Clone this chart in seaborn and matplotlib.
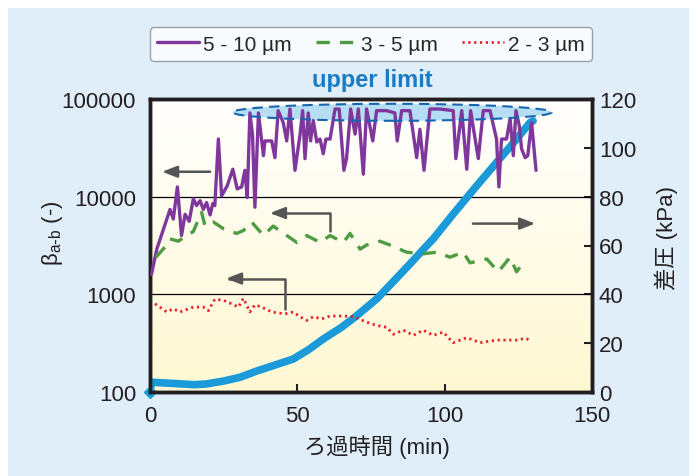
import matplotlib.pyplot as plt
import numpy as np
import seaborn as sns
from matplotlib.colors import LinearSegmentedColormap
from matplotlib.patches import Ellipse, Rectangle
from matplotlib.ticker import NullLocator

sns.set_style("ticks")
plt.rcParams["font.family"] = ["Liberation Sans", "Noto Sans CJK JP", "DejaVu Sans"]

# 5 - 10 um
t_510 = [0.5, 2.3, 6.8, 7.9, 9.3, 10.7, 11.9, 13.3, 14.7, 15.8, 17.0, 18.1, 19.2, 20.4,
         21.3, 22.0, 23.2, 24.3, 26.2, 28.1, 29.6, 31.1, 32.2, 33.0, 33.9, 34.8, 35.6,
         36.8, 38.5, 39.0, 41.3, 42.4, 43.5, 45.2, 46.4, 47.5, 49.2, 50.9, 51.8, 52.6,
         53.7, 54.5, 55.4, 56.6, 57.7, 58.8, 59.7, 61.1, 62.8, 64.2, 65.8, 66.7, 68.1,
         69.6, 70.7, 72.4, 73.5, 75.6, 76.9, 80.3, 83.1, 83.9, 85.4, 88.2, 90.5, 91.6,
         93.0, 95.0, 98.4, 102.9, 103.8, 105.8, 107.5, 108.8, 111.4, 113.1, 115.4,
         117.6, 118.4, 119.3, 121.0, 122.2, 123.3, 124.2, 125.3, 126.1, 127.3, 128.2,
         129.5, 131.0]
b_510 = [1600, 2900, 7400, 5900, 12600, 4000, 6600, 5600, 9500, 8100, 9100, 7400, 8700,
         6500, 8500, 8100, 38900, 10200, 12900, 19100, 12000, 12600, 18600, 9800, 72000,
         42700, 7800, 72000, 26300, 37200, 37200, 25100, 76000, 57500, 37200, 79000,
         18600, 42700, 76000, 24500, 72000, 37200, 60300, 36300, 38900, 27500, 38900,
         38900, 79000, 79000, 18600, 24500, 79000, 43700, 79000, 17000, 79000, 37200,
         76000, 76000, 72000, 37200, 76000, 76000, 25100, 49000, 18600, 79000, 79000,
         76000, 24500, 76000, 19100, 76000, 24500, 76000, 76000, 38900, 12600, 38900,
         38900, 63100, 26300, 76000, 53700, 30900, 25100, 26300, 57500, 18600]

# 3 - 5 um
t_35 = [2.0, 5.7, 6.8, 9.6, 11.3, 14.7, 17.5, 18.7, 21.5, 24.9, 29.4, 31.7, 34.5, 38.5,
        41.8, 46.4, 49.8, 53.2, 57.7, 61.1, 65.6, 67.9, 71.3, 73.5, 78.0, 81.4, 87.1,
        92.7, 97.3, 101.8, 106.3, 108.6, 114.3, 118.2, 122.2, 124.4, 126.7]
b_35 = [2400, 3200, 3700, 3500, 3800, 4400, 6900, 5000, 5500, 4700, 4200, 4500, 5500,
        4000, 5000, 4000, 3400, 4000, 3400, 4000, 3400, 4200, 2900, 3200, 3500, 3200,
        2700, 2600, 2700, 2400, 2700, 2100, 2300, 1700, 2400, 1700, 2100]

# 2 - 3 um
t_23 = [1.7, 5.7, 7.9, 10.2, 14.7, 18.1, 19.8, 22.0, 24.9, 27.7, 30.0, 31.7, 33.9, 35.6,
        37.9, 41.3, 45.8, 48.6, 50.9, 53.2, 55.4, 58.3, 61.1, 65.6, 69.0, 73.5, 76.9,
        80.3, 82.6, 86.0, 89.4, 92.7, 96.1, 99.5, 102.9, 107.5, 112.0, 117.6, 124.4,
        127.3, 128.9]
b_23 = [800, 660, 710, 660, 740, 740, 680, 890, 870, 800, 740, 910, 660, 780, 740, 660,
        630, 660, 590, 540, 590, 560, 600, 600, 590, 520, 480, 460, 390, 430, 380, 430,
        380, 410, 320, 360, 320, 340, 340, 355, 340]

# differential pressure (kPa)
t_dp = [0, 0.5, 7.9, 15, 19.2, 25, 30.5, 36, 41.8, 48.6, 54, 58.8, 65, 70.1, 76.9, 82,
        87.1, 93.9, 96.1, 102.9, 110.9, 117.6, 123.3, 129, 130]
dp = [0, 4.0, 3.5, 3.0, 3.3, 4.5, 6.0, 8.5, 10.8, 13.5, 17.5, 21.7, 26.5, 31.2, 38.1,
      44.5, 51, 59.9, 62.7, 72.9, 84.5, 94.0, 102.0, 110.4, 111]

C_PURPLE = "#80379c"
C_GREEN = "#4e9c42"
C_RED = "#e8212b"
C_BLUE = "#1a9ad8"
C_ARROW = "#555555"
C_TEXT = "#231f20"

fig = plt.figure(figsize=(6.89, 4.77), dpi=100)
fig.patch.set_facecolor("white")
fig.patches.append(Rectangle((8 / 689, 0), 1, 468 / 477, transform=fig.transFigure,
                             facecolor="#e0eef9", edgecolor="none", zorder=-10))

ax = fig.add_axes([150 / 689, 1 - 393 / 477, 442 / 689, 293 / 477])
ax2 = ax.twinx()
ax.set_zorder(ax2.get_zorder() + 1)
ax.patch.set_visible(False)

# background gradient (white -> light yellow)
grad = np.linspace(0, 1, 256)[:, None]
cmap = LinearSegmentedColormap.from_list("bg", ["#fff8d2", "#ffffff"])
ax2.imshow(grad, extent=[0, 1, 0, 1], transform=ax2.transAxes, aspect="auto",
           cmap=cmap, origin="lower", zorder=0)

# pressure curve
for yv in (40, 80):
    ax2.axhline(yv, color="black", lw=0.9, zorder=1)
sns.lineplot(x=t_dp, y=dp, ax=ax2, color=C_BLUE, lw=5.5, estimator=None, sort=False,
             zorder=2, legend=False)
ax2.plot([0], [0], marker="D", color=C_BLUE, ms=6, zorder=3, clip_on=False)
ax2.set_ylim(0, 120)
ax2.set_yticks(range(0, 121, 20))
ax2.tick_params(axis="y", direction="in", length=6, width=1.5, pad=5, labelsize=16,
                colors=C_TEXT)
ax2.set_ylabel("差圧 (kPa)", fontsize=16, color=C_TEXT)
ax2.yaxis.set_label_coords(1.1425, 0.529)

# beta ratios
sns.lineplot(x=t_510, y=b_510, ax=ax, color=C_PURPLE, lw=2.4, estimator=None,
             sort=False, label="5 - 10 µm", zorder=4)
sns.lineplot(x=t_35, y=b_35, ax=ax, color=C_GREEN, lw=2.4, estimator=None, sort=False,
             label="3 - 5 µm", zorder=4, linestyle=(0, (4, 3)))
sns.lineplot(x=t_23, y=b_23, ax=ax, color=C_RED, lw=2.0, estimator=None, sort=False,
             label="2 - 3 µm", zorder=4, linestyle=(0, (0.8, 1.3)))

ax.set_yscale("log")
ax.set_ylim(100, 100000)
ax.set_yticks([100, 1000, 10000, 100000])
ax.set_yticklabels(["100", "1000", "10000", "100000"])
ax.yaxis.set_minor_locator(NullLocator())
ax.set_xlim(0, 150)
ax.set_xticks([0, 50, 100, 150])
ax.tick_params(axis="y", length=0, pad=10, labelsize=16, colors=C_TEXT)
ax.tick_params(axis="x", direction="in", length=6, width=1.5, pad=9, labelsize=16,
               colors=C_TEXT)
ax.set_xlabel("ろ過時間 (min)", fontsize=16, color=C_TEXT)
ax.xaxis.set_label_coords(0.513, -0.143)
ax.set_ylabel(r"β$_{\mathregular{a\text{-}b}}$ (-)", fontsize=16, color=C_TEXT)
ax.yaxis.set_label_coords(-0.192, 0.546)

for a in (ax, ax2):
    for s in a.spines.values():
        s.set_linewidth(2.5)
        s.set_color(C_TEXT)

# upper limit marker
ax.add_patch(Ellipse((0.5475, 0.9546), 0.7217, 0.058, transform=ax.transAxes,
                     facecolor="#b5def4", edgecolor="none", zorder=3))
ax.add_patch(Ellipse((0.5475, 0.9546), 0.7217, 0.058, transform=ax.transAxes,
                     facecolor="none", edgecolor="#1565b0", lw=1.5, ls=(0, (5, 3)),
                     zorder=5))
ax.text(0.502, 1.068, "upper limit", transform=ax.transAxes, ha="center", va="center",
        fontsize=17, fontweight="bold", color="#1a7cc4")

# arrows
arrow_kw = dict(arrowstyle="-|>,head_length=0.9,head_width=0.35", color=C_ARROW, lw=1.8,
                shrinkA=0, shrinkB=0)
ax.annotate("", xy=(4.1, 18000), xytext=(20.4, 18000), arrowprops=arrow_kw)
ax.annotate("", xy=(40.7, 6800), xytext=(61.1, 4400),
            arrowprops=dict(arrow_kw, connectionstyle="angle,angleA=90,angleB=0,rad=0"))
ax.annotate("", xy=(25.8, 1450), xytext=(45.8, 710),
            arrowprops=dict(arrow_kw, connectionstyle="angle,angleA=90,angleB=0,rad=0"))
ax.annotate("", xy=(130.7, 5300), xytext=(109.6, 5300), arrowprops=arrow_kw)

leg = ax.legend(loc="lower left", bbox_to_anchor=(0, 1.13, 1, 0.129), mode="expand",
                ncol=3, fontsize=15, handlelength=2.0, handletextpad=0.2,
                borderaxespad=0, frameon=True, fancybox=True, borderpad=0.35,
                columnspacing=0.8)
leg.get_frame().set_edgecolor("#8a8a8a")
leg.get_frame().set_linewidth(1.0)

fig.savefig("out.png", dpi=100)
